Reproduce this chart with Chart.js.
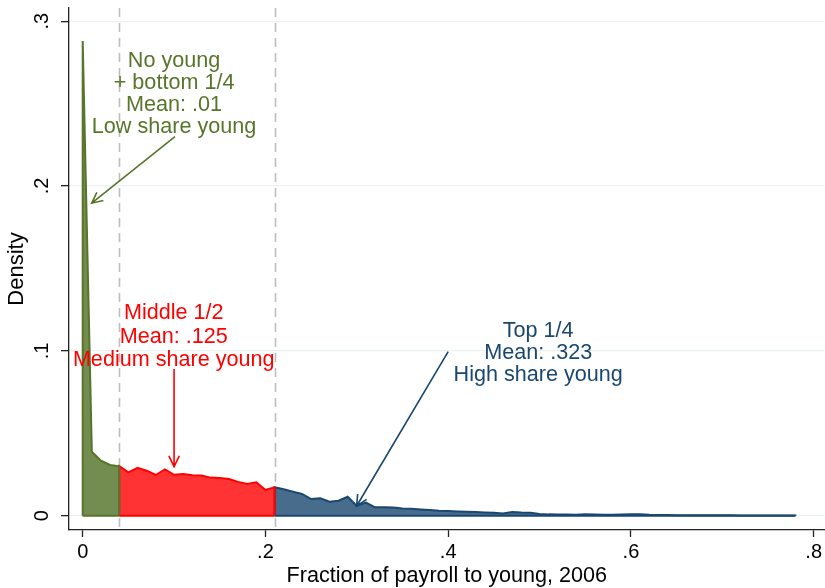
<!DOCTYPE html>
<html>
<head>
<meta charset="utf-8">
<script src="https://cdn.jsdelivr.net/npm/chart.js@4"></script>
<style>
  body { margin: 0; background: #fff; }
  #wrap { width: 825px; height: 588px; }
</style>
</head>
<body>
<div id="wrap"><canvas id="Chart1" width="825" height="588"></canvas></div>
<script>
// fraction of payroll to young (bin positions) and density at each
var payrollShare = [0, 0.01, 0.02, 0.03, 0.04, 0.05, 0.06, 0.07, 0.08, 0.09,
  0.10, 0.11, 0.12, 0.13, 0.14, 0.15, 0.16, 0.17, 0.18, 0.19,
  0.20, 0.21, 0.22, 0.23, 0.24, 0.25, 0.26, 0.27, 0.28, 0.29,
  0.30, 0.31, 0.32, 0.33, 0.34, 0.35, 0.36, 0.37, 0.38, 0.39,
  0.40, 0.41, 0.42, 0.43, 0.44, 0.45, 0.46, 0.47, 0.48, 0.49,
  0.50, 0.51, 0.52, 0.53, 0.54, 0.55, 0.56, 0.57, 0.58, 0.59,
  0.60, 0.61, 0.62, 0.63, 0.64, 0.65, 0.66, 0.67, 0.68, 0.69,
  0.70, 0.71, 0.72, 0.73, 0.74, 0.75, 0.76, 0.77, 0.78];
var density = [0.288, 0.0388, 0.0334, 0.0308, 0.0300, 0.0263, 0.0290, 0.0273, 0.0247, 0.0281,
  0.0248, 0.0253, 0.0245, 0.0244, 0.0231, 0.0229, 0.0222, 0.0205, 0.0193, 0.0203,
  0.0156, 0.0172, 0.0160, 0.0146, 0.0132, 0.0101, 0.0106, 0.0085, 0.0091, 0.0115,
  0.0059, 0.0079, 0.0051, 0.0051, 0.0049, 0.0043, 0.0042, 0.0038, 0.0035, 0.0030,
  0.0028, 0.0026, 0.0024, 0.0022, 0.0020, 0.0018, 0.0014, 0.0022, 0.0019, 0.0018,
  0.0011, 0.0008, 0.0007, 0.0007, 0.0006, 0.0008, 0.0007, 0.0006, 0.0006, 0.0007,
  0.0009, 0.0008, 0.0005, 0.0004, 0.0004, 0.0003, 0.0003, 0.0002, 0.0003, 0.0002,
  0.0002, 0.0002, 0.0001, 0.0001, 0.0001, 0.0001, 0.0001, 0.0001, 0.0001];

// group cut points (share of payroll)
var lowCut = 0.04;
var highCut = 0.21;

var xTicks = [0, 0.2, 0.4, 0.6, 0.8];
var yTicks = [0, 0.1, 0.2, 0.3];

var lowNote = ['No young', '+ bottom 1/4', 'Mean: .01', 'Low share young'];
var midNote = ['Middle 1/2', 'Mean: .125', 'Medium share young'];
var topNote = ['Top 1/4', 'Mean: .323', 'High share young'];

var FONT = "'Liberation Sans', Arial, sans-serif";
var GREEN = 'rgb(88,117,44)';
var RED = 'rgb(255,0,0)';
var NAVY = 'rgb(26,71,111)';

function segment(lo, hi) {
  var pts = [];
  payrollShare.forEach(function (x, i) {
    if (x >= lo - 1e-9 && x <= hi + 1e-9) pts.push({x: x, y: density[i]});
  });
  pts.unshift({x: pts[0].x, y: 0});
  pts.push({x: pts[pts.length - 1].x, y: 0});
  return pts;
}

function tickText(v) {
  if (Math.abs(v) < 1e-9) return '0';
  return v.toFixed(1).replace(/^0/, '');
}

// text + arrow annotations, in data units
var notes = [
  {lines: lowNote, x: 0.1, y: 0.2725, step: 22.2, color: GREEN, arrow: [0.101, 0.230, 0.0098, 0.1896]},
  {lines: midNote, x: 0.0996, y: 0.1192, step: 23.3, color: RED, arrow: [0.1, 0.089, 0.1, 0.0297]},
  {lines: topNote, x: 0.4985, y: 0.1086, step: 22.2, color: NAVY, arrow: [0.4, 0.0995, 0.2998, 0.0059]}
];

var cutLines = {
  id: 'cutLines',
  beforeDatasetsDraw: function (chart) {
    var ctx = chart.ctx, xs = chart.scales.x, a = chart.chartArea;
    ctx.save();
    ctx.strokeStyle = 'rgb(190,190,190)';
    ctx.lineWidth = 1.6;
    ctx.setLineDash([9, 6]);
    [lowCut, highCut].forEach(function (c) {
      var px = Math.round(xs.getPixelForValue(c)) + 0.5;
      ctx.beginPath();
      ctx.moveTo(px, a.top);
      ctx.lineTo(px, a.bottom);
      ctx.stroke();
    });
    ctx.restore();
  },
  afterDatasetsDraw: function (chart) {
    // close each area along the baseline, as the outline does in the original
    var ctx = chart.ctx, xs = chart.scales.x, ys = chart.scales.y;
    var y0 = ys.getPixelForValue(0);
    ctx.save();
    ctx.lineWidth = 2;
    chart.data.datasets.forEach(function (ds) {
      var d = ds.data;
      ctx.strokeStyle = ds.borderColor;
      ctx.beginPath();
      ctx.moveTo(xs.getPixelForValue(d[0].x), y0);
      ctx.lineTo(xs.getPixelForValue(d[d.length - 1].x), y0);
      ctx.stroke();
    });
    ctx.restore();
  }
};

var extras = {
  id: 'extras',
  afterDraw: function (chart) {
    var ctx = chart.ctx, xs = chart.scales.x, ys = chart.scales.y;
    ctx.save();
    // rotated y tick labels
    ctx.fillStyle = '#000';
    ctx.font = '20px ' + FONT;
    ctx.textAlign = 'center';
    ctx.textBaseline = 'middle';
    yTicks.forEach(function (v) {
      ctx.save();
      ctx.translate(42, ys.getPixelForValue(v));
      ctx.rotate(-Math.PI / 2);
      ctx.fillText(tickText(v), 0, 0);
      ctx.restore();
    });
    // annotations
    notes.forEach(function (n) {
      ctx.fillStyle = n.color;
      ctx.strokeStyle = n.color;
      ctx.font = '21.6px ' + FONT;
      ctx.textAlign = 'center';
      ctx.textBaseline = 'alphabetic';
      var cx = xs.getPixelForValue(n.x), cy = ys.getPixelForValue(n.y);
      n.lines.forEach(function (t, i) { ctx.fillText(t, cx, cy + i * n.step); });
      var x0 = xs.getPixelForValue(n.arrow[0]), y0 = ys.getPixelForValue(n.arrow[1]);
      var x1 = xs.getPixelForValue(n.arrow[2]), y1 = ys.getPixelForValue(n.arrow[3]);
      var ang = Math.atan2(y1 - y0, x1 - x0), len = 12, spread = 0.45;
      ctx.lineWidth = 1.6;
      ctx.beginPath();
      ctx.moveTo(x0, y0);
      ctx.lineTo(x1, y1);
      ctx.moveTo(x1 - len * Math.cos(ang - spread), y1 - len * Math.sin(ang - spread));
      ctx.lineTo(x1, y1);
      ctx.lineTo(x1 - len * Math.cos(ang + spread), y1 - len * Math.sin(ang + spread));
      ctx.stroke();
    });
    ctx.restore();
  }
};

function area(data, line, fillCol) {
  return {
    data: data,
    borderColor: line,
    backgroundColor: fillCol,
    borderWidth: 2,
    fill: 'origin',
    pointRadius: 0,
    tension: 0
  };
}

var ctx1 = document.getElementById('Chart1').getContext('2d');
var Chart1 = new Chart(ctx1, {
  type: 'line',
  data: {
    datasets: [
      area(segment(0, lowCut), GREEN, 'rgba(80,111,36,0.8)'),
      area(segment(lowCut, highCut), RED, 'rgba(255,0,0,0.8)'),
      area(segment(highCut, 1), NAVY, 'rgba(26,71,111,0.8)')
    ]
  },
  plugins: [cutLines, extras],
  options: {
    responsive: false,
    animation: false,
    layout: {padding: {top: 8, right: 0, left: 0, bottom: 0}},
    plugins: {legend: {display: false}, tooltip: {enabled: false}},
    scales: {
      x: {
        type: 'linear',
        min: -0.015,
        max: 0.812,
        afterBuildTicks: function (s) { s.ticks = xTicks.map(function (v) { return {value: v}; }); },
        afterFit: function (s) { s.height = 58; },
        border: {display: true, color: '#222', width: 1.3},
        grid: {drawOnChartArea: false, tickColor: '#222', tickLength: 7, tickWidth: 1.3},
        ticks: {
          color: '#000',
          font: {family: FONT, size: 20},
          padding: 3,
          maxRotation: 0,
          callback: function (v) { return tickText(v); }
        },
        title: {display: true, text: 'Fraction of payroll to young, 2006', color: '#000',
          font: {family: FONT, size: 21.6}, padding: {top: 0, bottom: -1}}
      },
      y: {
        type: 'linear',
        min: -0.00868,
        max: 0.308,
        afterBuildTicks: function (s) { s.ticks = yTicks.map(function (v) { return {value: v}; }); },
        afterFit: function (s) { s.width = 69; },
        border: {display: true, color: '#222', width: 1.3},
        grid: {color: 'rgb(234,242,243)', lineWidth: 1.3, tickColor: '#222', tickLength: 8, tickWidth: 1.3},
        ticks: {display: false},
        title: {display: true, text: 'Density', color: '#000',
          font: {family: FONT, size: 22}, padding: {top: 4, bottom: 0}}
      }
    }
  }
});
</script>
</body>
</html>
